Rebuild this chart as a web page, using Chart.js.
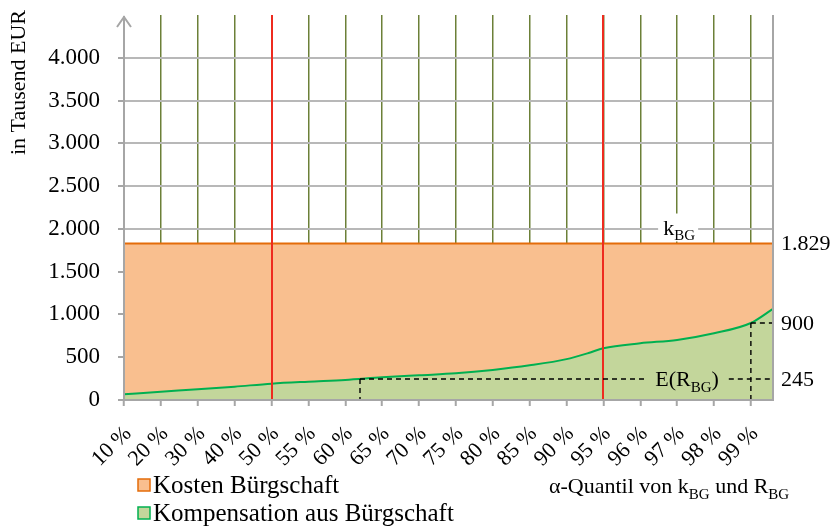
<!DOCTYPE html>
<html>
<head>
<meta charset="utf-8">
<script src="https://cdn.jsdelivr.net/npm/chart.js@4.4.0/dist/chart.umd.min.js"></script>
<style>
  body { margin: 0; background: #fff; }
  canvas { display: block; }
</style>
</head>
<body>
<canvas id="bg-chart" width="832" height="526"></canvas>
<script>
// alpha levels on the x axis (steps of 10, then 5, then 1 percent)
const tickAlphas = [10, 20, 30, 40, 50, 55, 60, 65, 70, 75, 80, 85, 90, 95, 96, 97, 98, 99];
const tickLabels = tickAlphas.map(a => a + ' %');

// compensation from the guarantee R_BG, quantiles in thousand EUR
const compAlphas = [10, 20, 30, 40, 50, 55, 60, 65, 70, 75, 80, 85, 90, 93, 95, 96, 97, 98, 99, 99.6];
const compValues = [67, 97, 125, 156, 191, 214, 234, 265, 289, 312, 351, 405, 478, 550, 605, 663, 702, 780, 900, 1065];

// cost of the guarantee k_BG (flat over all quantiles)
const costAlphas = [10, 99.6];
const costValues = [1829, 1829];

const expectedComp = 245;   // E(R_BG)
const expectedAlpha = 62;   // quantile where R_BG reaches its mean
const comp99 = 900;         // 99 % quantile of R_BG
const redAlphas = [50, 95];
const yMax = 4500;

const FONT = '"Liberation Serif", "Times New Roman", serif';
const GREY = '#a6a6a6';

// alpha -> position on the axis (one unit per labelled tick)
function alphaPos(a) {
  for (let i = 0; i < tickAlphas.length - 1; i++) {
    if (a <= tickAlphas[i + 1]) {
      return i + (a - tickAlphas[i]) / (tickAlphas[i + 1] - tickAlphas[i]);
    }
  }
  return tickAlphas.length - 1 + (a - tickAlphas[tickAlphas.length - 1]);
}

function fmt(v) {
  return v.toString().replace(/\B(?=(\d{3})+(?!\d))/g, '.');
}

// text with a subscript part: parts = [[text, isSub], ...]
function drawSub(ctx, parts, x, y, size, align) {
  const subSize = Math.round(size * 0.7);
  let w = 0;
  parts.forEach(p => {
    ctx.font = (p[1] ? subSize : size) + 'px ' + FONT;
    w += ctx.measureText(p[0]).width;
  });
  let cx = align === 'center' ? x - w / 2 : x;
  ctx.textAlign = 'left';
  ctx.textBaseline = 'alphabetic';
  parts.forEach(p => {
    ctx.font = (p[1] ? subSize : size) + 'px ' + FONT;
    ctx.fillText(p[0], cx, p[1] ? y + size * 0.25 : y);
    cx += ctx.measureText(p[0]).width;
  });
  return { left: x - (align === 'center' ? w / 2 : 0), width: w };
}

const overlay = {
  id: 'overlay',
  afterDatasetsDraw(chart) {
    const ctx = chart.ctx;
    const xs = chart.scales.x, ys = chart.scales.y;
    const area = chart.chartArea;
    ctx.save();

    // red marker lines at the 50 % and 95 % quantile
    ctx.strokeStyle = '#ee2b1f';
    ctx.lineWidth = 2;
    redAlphas.forEach(a => {
      const px = Math.round(xs.getPixelForValue(alphaPos(a)));
      ctx.beginPath();
      ctx.moveTo(px, area.top);
      ctx.lineTo(px, area.bottom);
      ctx.stroke();
    });

    // k_BG label with white box over the grid
    const kx = xs.getPixelForValue(alphaPos(97));
    const ky = ys.getPixelForValue(costValues[0]);
    ctx.fillStyle = '#fff';
    ctx.fillRect(kx - 19, ky - 30, 40, 28);
    ctx.fillStyle = '#000';
    drawSub(ctx, [['k', false], ['BG', true]], kx + 2, ky - 9, 22, 'center');

    // dashed guide lines for E(R_BG) and the 99 % quantile
    const yE = ys.getPixelForValue(expectedComp);
    const y99 = ys.getPixelForValue(comp99);
    const xE = xs.getPixelForValue(alphaPos(expectedAlpha));
    const x99 = xs.getPixelForValue(alphaPos(99));
    const labelCx = 687;
    ctx.fillStyle = '#000';
    const lab = drawSub(ctx, [['E(R', false], ['BG', true], [')', false]], labelCx, yE + 7, 22, 'center');
    ctx.strokeStyle = '#000';
    ctx.lineWidth = 1.4;
    ctx.setLineDash([5, 4]);
    ctx.beginPath();
    ctx.moveTo(xE, yE); ctx.lineTo(lab.left - 8, yE);
    ctx.moveTo(lab.left + lab.width + 10, yE); ctx.lineTo(area.right, yE);
    ctx.moveTo(xE, yE); ctx.lineTo(xE, area.bottom);
    ctx.moveTo(x99, y99); ctx.lineTo(area.right, y99);
    ctx.moveTo(x99, y99); ctx.lineTo(x99, area.bottom);
    ctx.stroke();
    ctx.setLineDash([]);

    // axis lines: left with arrow, bottom, right frame
    ctx.strokeStyle = GREY;
    ctx.lineWidth = 2;
    ctx.beginPath();
    ctx.moveTo(area.left, area.bottom);
    ctx.lineTo(area.left, area.top + 1);
    ctx.moveTo(area.left - 7, area.top + 12);
    ctx.lineTo(area.left, area.top + 2);
    ctx.lineTo(area.left + 7, area.top + 12);
    ctx.moveTo(area.left, area.bottom);
    ctx.lineTo(area.right, area.bottom);
    ctx.moveTo(area.right, area.top);
    ctx.lineTo(area.right, area.bottom + 1);
    ctx.stroke();

    // value labels at the right edge
    ctx.fillStyle = '#000';
    ctx.font = '22px ' + FONT;
    ctx.textAlign = 'left';
    ctx.textBaseline = 'middle';
    [costValues[0], comp99, expectedComp].forEach(v => {
      ctx.fillText(fmt(v), area.right + 8, ys.getPixelForValue(v) + 1);
    });
    ctx.restore();
  },
  afterDraw(chart) {
    const ctx = chart.ctx;
    ctx.save();
    // y axis title
    ctx.translate(25, 10);
    ctx.rotate(-Math.PI / 2);
    ctx.fillStyle = '#000';
    ctx.font = '22px ' + FONT;
    ctx.textAlign = 'right';
    ctx.textBaseline = 'alphabetic';
    ctx.fillText('in Tausend EUR', 0, 0);
    ctx.restore();

    ctx.save();
    // legend
    const items = [
      ['Kosten Bürgschaft', '#f9bf8f', '#e46c0a', 485],
      ['Kompensation aus Bürgschaft', '#c3d69b', '#00b050', 513]
    ];
    items.forEach(it => {
      ctx.fillStyle = it[1];
      ctx.fillRect(138, it[3] - 6, 12, 12);
      ctx.strokeStyle = it[2];
      ctx.lineWidth = 1.5;
      ctx.strokeRect(138, it[3] - 6, 12, 12);
      ctx.fillStyle = '#000';
      ctx.font = '25px ' + FONT;
      ctx.textAlign = 'left';
      ctx.textBaseline = 'middle';
      ctx.fillText(it[0], 153, it[3] + 1);
    });
    // x axis title
    ctx.fillStyle = '#000';
    drawSub(ctx, [['α-Quantil von k', false], ['BG', true], [' und R', false], ['BG', true]], 549, 493, 22, 'left');
    ctx.restore();
  }
};

new Chart(document.getElementById('bg-chart'), {
  type: 'line',
  data: {
    datasets: [{
      label: 'Kompensation aus Bürgschaft',
      data: compAlphas.map((a, i) => ({ x: alphaPos(a), y: compValues[i] })),
      borderColor: '#00b050',
      backgroundColor: '#c3d69b',
      borderWidth: 2,
      fill: 'origin',
      pointRadius: 0,
      cubicInterpolationMode: 'monotone'
    }, {
      label: 'Kosten Bürgschaft',
      data: costAlphas.map((a, i) => ({ x: alphaPos(a), y: costValues[i] })),
      borderColor: '#e46c0a',
      backgroundColor: '#f9bf8f',
      borderWidth: 2,
      fill: 'origin',
      pointRadius: 0
    }]
  },
  options: {
    responsive: false,
    animation: false,
    layout: { padding: { top: 15, right: 59, left: 0, bottom: 0 } },
    plugins: {
      legend: { display: false },
      tooltip: { enabled: false }
    },
    scales: {
      x: {
        type: 'linear',
        min: 0,
        max: alphaPos(99.6),
        afterBuildTicks: scale => {
          scale.ticks = tickAlphas.map((a, i) => ({ value: i }));
        },
        afterFit: scale => {
          scale.height = 126;
          scale.paddingLeft = 0;
          scale.paddingRight = 0;
        },
        border: { display: false },
        grid: {
          color: c => (c.index === 0 ? 'transparent' : '#6c8038'),
          lineWidth: 1.5,
          tickColor: GREY,
          tickLength: 6,
          tickWidth: 2
        },
        ticks: {
          autoSkip: false,
          minRotation: 45,
          maxRotation: 45,
          padding: 15,
          labelOffset: 4,
          color: '#000',
          font: { family: FONT, size: 22 },
          callback: v => tickLabels[v]
        }
      },
      y: {
        min: 0,
        max: yMax,
        afterFit: scale => {
          scale.width = 124;
          scale.paddingTop = 0;
          scale.paddingBottom = 0;
        },
        border: { display: false },
        grid: {
          color: c => (c.tick.value === yMax ? 'transparent' : '#b8b8b8'),
          tickColor: c => (c.tick.value === yMax ? 'transparent' : GREY),
          lineWidth: 2,
          tickLength: 6,
          tickWidth: 2
        },
        ticks: {
          stepSize: 500,
          padding: 18,
          color: '#000',
          font: { family: FONT, size: 23 },
          callback: v => (v === yMax ? '' : fmt(v))
        }
      }
    }
  },
  plugins: [overlay]
});
</script>
</body>
</html>
